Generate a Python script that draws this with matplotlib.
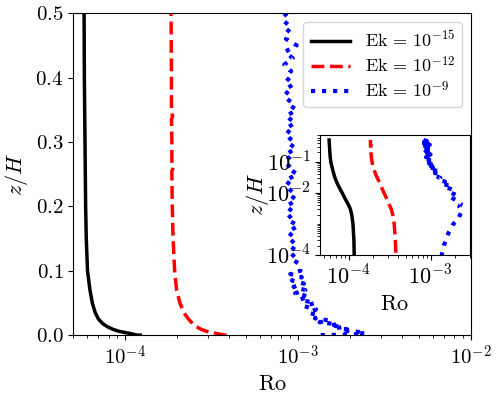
import numpy as np
import matplotlib
matplotlib.use("Agg")
import matplotlib.pyplot as plt
from matplotlib import ticker

plt.rcParams['mathtext.fontset'] = 'cm'
plt.rcParams['font.family'] = 'serif'
plt.rcParams['font.serif'] = ['cmr10', 'DejaVu Serif']

# Ek = 1e-15
z_15 = [0, 1e-4, 3e-4, 1e-3, 2e-3, 3e-3, 4e-3, 6e-3, 9e-3, 1.3e-2, 1.8e-2, 2.5e-2,
        3.5e-2, 5e-2, 7e-2, 0.1, 0.15, 0.2, 0.3, 0.4, 0.5]
ro_15 = [12.2e-5, 11.7e-5, 11.6e-5, 11.3e-5, 10.9e-5, 10.5e-5, 10.0e-5, 9.2e-5, 8.5e-5,
         7.9e-5, 7.4e-5, 7.0e-5, 6.7e-5, 6.45e-5, 6.25e-5, 6.05e-5, 5.95e-5, 5.9e-5,
         5.85e-5, 5.8e-5, 5.78e-5]

# Ek = 1e-12
z_12 = [0, 1e-4, 3e-4, 1e-3, 2e-3, 3e-3, 4e-3, 6e-3, 9e-3, 1.3e-2, 1.8e-2, 2.5e-2,
        3.5e-2, 5e-2, 7e-2, 0.1, 0.15, 0.2, 0.255, 0.26, 0.265, 0.3, 0.335, 0.34,
        0.345, 0.4, 0.5]
ro_12 = [3.85e-4, 3.78e-4, 3.72e-4, 3.6e-4, 3.45e-4, 3.32e-4, 3.15e-4, 2.95e-4, 2.75e-4,
         2.58e-4, 2.45e-4, 2.32e-4, 2.18e-4, 2.07e-4, 1.98e-4, 1.93e-4, 1.89e-4, 1.87e-4,
         1.86e-4, 1.9e-4, 1.86e-4, 1.86e-4, 1.85e-4, 1.88e-4, 1.85e-4, 1.85e-4, 1.84e-4]

# Ek = 1e-9 (noisy profile)
z_9 = [0, 1e-4, 2e-4, 3e-4, 5e-4, 7e-4, 1e-3, 1.3e-3, 1.8e-3, 2.7e-3, 3.5e-3, 4.5e-3,
       5.6e-3, 7e-3, 8.5e-3, 0.0095, 0.011, 0.013, 0.015, 0.017, 0.02, 0.023, 0.026,
       0.03, 0.035, 0.04, 0.045, 0.05, 0.055, 0.06, 0.065, 0.07, 0.075, 0.08, 0.085,
       0.09, 0.095, 0.10,
       0.11, 0.12, 0.13, 0.14, 0.15, 0.16, 0.17, 0.18, 0.19, 0.20,
       0.21, 0.22, 0.23, 0.24, 0.25, 0.26, 0.27, 0.28, 0.29, 0.30,
       0.31, 0.32, 0.33, 0.34, 0.35, 0.36, 0.37, 0.38, 0.39, 0.40,
       0.41, 0.42, 0.43, 0.44, 0.45, 0.46, 0.47, 0.48, 0.49, 0.50]
ro_9 = [1.35e-3, 1.37e-3, 1.45e-3, 1.55e-3, 1.65e-3, 1.78e-3, 1.9e-3, 2.15e-3, 2.26e-3,
        2.42e-3, 2.25e-3, 2.35e-3, 2.12e-3, 1.78e-3, 2.05e-3, 1.87e-3, 1.68e-3, 1.82e-3,
        1.52e-3, 1.68e-3, 1.33e-3, 1.5e-3, 1.25e-3, 1.32e-3, 1.15e-3, 1.27e-3, 1.08e-3,
        1.25e-3, 1.02e-3, 1.15e-3, 0.96e-3, 1.1e-3, 0.94e-3, 1.08e-3, 0.92e-3, 1.05e-3,
        0.9e-3, 1.03e-3,
        1.02e-3, 0.9e-3, 0.99e-3, 0.88e-3, 0.97e-3, 0.87e-3, 1.0e-3, 0.86e-3, 0.95e-3, 0.85e-3,
        0.98e-3, 0.87e-3, 0.94e-3, 0.84e-3, 0.99e-3, 0.86e-3, 0.93e-3, 0.84e-3, 0.97e-3, 0.86e-3,
        0.94e-3, 0.84e-3, 0.96e-3, 0.85e-3, 0.98e-3, 0.86e-3, 0.92e-3, 0.83e-3, 0.94e-3, 0.85e-3,
        0.91e-3, 0.83e-3, 0.93e-3, 0.84e-3, 0.98e-3, 0.85e-3, 0.9e-3, 0.82e-3, 0.89e-3, 0.83e-3]

labels = [r'$\mathrm{Ek} \,=\, 10^{-15}$', r'$\mathrm{Ek} \,=\, 10^{-12}$',
          r'$\mathrm{Ek} \,=\, 10^{-9}$']
y_ticks = [0.0, 0.1, 0.2, 0.3, 0.4, 0.5]


def log_fmt(v, pos):
    return r'$10^{%d}$' % int(round(np.log10(v)))


fig = plt.figure(figsize=(4.98, 3.99), dpi=100)
ax = fig.add_axes([0.147, 0.160, 0.799, 0.807])

ax.plot(ro_15, z_15, color='black', lw=2.5, label=labels[0])
ax.plot(ro_12, z_12, color='red', lw=2.5, ls='--', label=labels[1])
ax.plot(ro_9, z_9, color='blue', lw=3, ls=':', label=labels[2])
ax.set_xscale('log')
ax.set_xlim(5e-5, 1e-2)
ax.set_ylim(0, 0.5)
ax.xaxis.set_major_formatter(ticker.FuncFormatter(log_fmt))
ax.set_yticks(y_ticks)
ax.set_yticklabels([r'$%.1f$' % v for v in y_ticks])
ax.tick_params(labelsize=15)
ax.set_xlabel(r'$\mathrm{Ro}$', fontsize=16)
ax.set_ylabel(r'$z/H$', fontsize=16)
ax.legend(loc='upper right', fontsize=13, handlelength=2.2, labelspacing=0.25)

# inset with log-log axes
axin = fig.add_axes([0.643, 0.361, 0.300, 0.301])
axin.plot(ro_15, z_15, color='black', lw=2.5)
axin.plot(ro_12, z_12, color='red', lw=2.5, ls='--')
axin.plot(ro_9, z_9, color='blue', lw=3, ls=':')
axin.set_xscale('log')
axin.set_yscale('log')
axin.set_xlim(4.5e-5, 3e-3)
axin.set_ylim(1e-4, 0.73)
axin.yaxis.set_major_locator(ticker.FixedLocator([1e-4, 1e-2, 1e-1]))
axin.yaxis.set_minor_locator(ticker.LogLocator(base=10, subs=np.arange(1, 10), numticks=20))
axin.yaxis.set_minor_formatter(ticker.NullFormatter())
axin.xaxis.set_major_locator(ticker.FixedLocator([1e-4, 1e-3]))
axin.xaxis.set_minor_locator(ticker.LogLocator(base=10, subs=np.arange(2, 10), numticks=20))
axin.xaxis.set_minor_formatter(ticker.NullFormatter())
axin.xaxis.set_major_formatter(ticker.FuncFormatter(log_fmt))
axin.yaxis.set_major_formatter(ticker.FuncFormatter(log_fmt))
axin.tick_params(labelsize=16)
axin.set_xlabel(r'$\mathrm{Ro}$', fontsize=16)
axin.set_ylabel(r'$z/H$', fontsize=16, labelpad=-4)

fig.savefig('out.png', dpi=100)
